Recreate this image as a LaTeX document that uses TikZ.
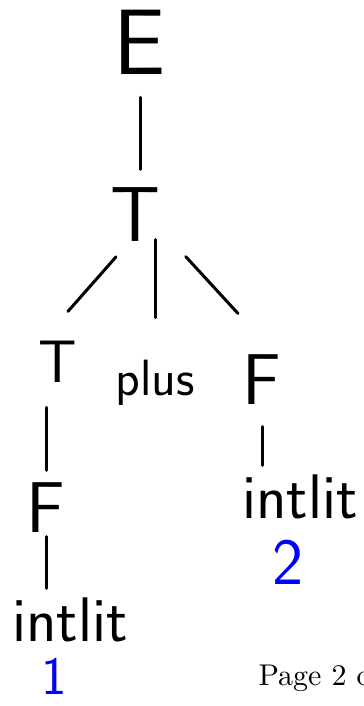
\documentclass[tikz,border=0pt]{standalone}
\begin{document}
\begin{tikzpicture}[x=0.3333pt,y=-0.3333pt,
  sym/.style={font=\sffamily\fontsize{24}{24}\selectfont,inner sep=1pt},
  lit/.style={font=\sffamily\fontsize{21}{21}\selectfont,inner sep=1pt},
  val/.style={text=blue,font=\sffamily\fontsize{18}{18}\selectfont,inner sep=1pt},
  edge/.style={line width=1pt,line cap=round}]
  \useasboundingbox (0,0) rectangle (363,706);
  \clip (0,0) rectangle (363,706);
  % nodes of the tree
  \node[sym,font=\sffamily\fontsize{31}{31}\selectfont] (E) at (140,42) {E};
  \node[sym,font=\sffamily\fontsize{26}{26}\selectfont] (T) at (135,215) {T};
  \node[sym,font=\sffamily\fontsize{20}{20}\selectfont] (Tl) at (58,362) {T};
  \node[sym,font=\sffamily\fontsize{17}{17}\selectfont] (plus) at (155,383) {plus};
  \node[sym] (Fr) at (262,380) {F};
  \node[sym] (Fl) at (46,508) {F};
  \node[lit] (il) at (70,620) {intlit};
  \node[lit] (ir) at (300,497) {intlit};
  \node[val] (one) at (54,676) {1};
  \node[val,font=\sffamily\fontsize{22}{22}\selectfont] (two) at (288,562) {2};
  \node[anchor=base west,inner sep=0pt] (page) at (258,685) {Page 2 of};
  % edges
  \draw[edge,shorten <=6.5pt,shorten >=5pt] (E) -- (E |- T.north);
  \draw[edge,shorten <=5pt,shorten >=5pt] ([xshift=-3pt]T.south) -- ([yshift=5pt]Tl.north);
  \draw[edge,shorten <=-2pt,shorten >=13pt] (T.south -| plus) -- (plus.north);
  \draw[edge,shorten <=5pt,shorten >=5pt] ([xshift=4pt]T.south east) -- ([xshift=3pt,yshift=9pt]Fr.north west);
  \draw[edge,shorten <=7pt,shorten >=3pt] (Tl.south -| Fl) -- (Fl);
  \draw[edge,shorten >=2pt] (Fl) -- (il.north -| Fl);
  \draw[edge,shorten <=6pt,shorten >=2pt] (Fr) -- (ir.north -| Fr);
\end{tikzpicture}
\end{document}
